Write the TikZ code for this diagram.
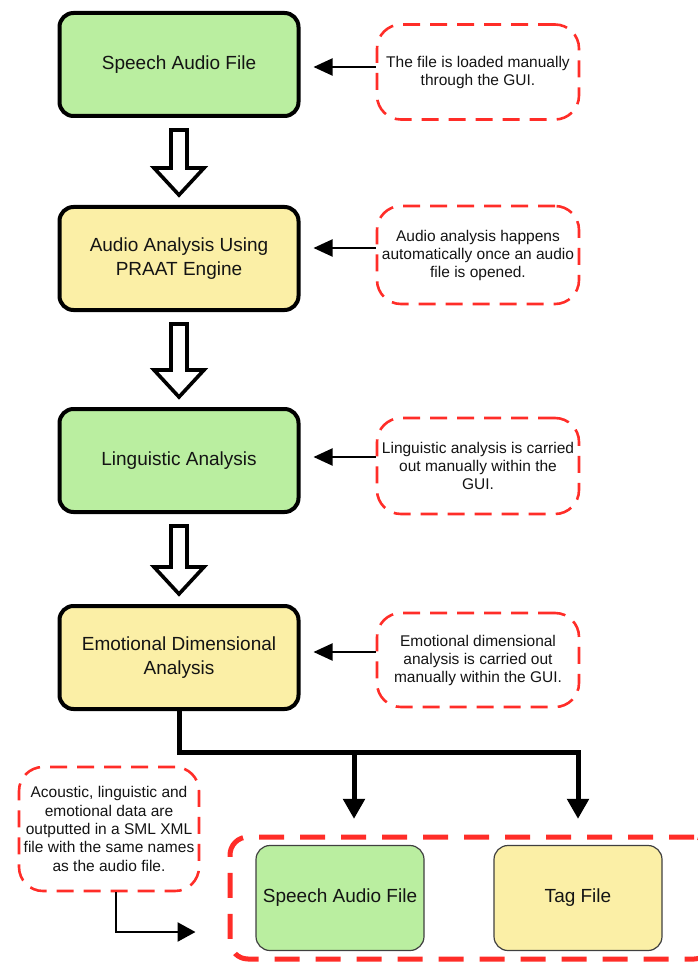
\documentclass[tikz,border=0pt]{standalone}
\usepackage{fontspec}
\setmainfont{Liberation Sans}
\usetikzlibrary{arrows.meta,calc}

\definecolor{boxgreen}{RGB}{186,238,160}
\definecolor{boxyellow}{RGB}{251,239,166}
\definecolor{notered}{RGB}{255,45,40}
\definecolor{inkblack}{RGB}{20,20,20}

\tikzset{
  mainbox/.style={draw=black, line width=4pt, rounded corners=14pt,
    minimum width=239pt, minimum height=103pt, align=center,
    text=inkblack, font=\fontsize{19}{23.5}\selectfont},
  outbox/.style={draw=black!75, line width=1.2pt, rounded corners=14pt,
    minimum width=168pt, minimum height=105pt, align=center,
    text=inkblack, font=\fontsize{19}{23.5}\selectfont},
  notebox/.style={draw=notered, line width=2.6pt, dash pattern=on 17pt off 10pt,
    rounded corners=24pt, minimum width=202pt, inner sep=0pt, align=center,
    text=inkblack, font=\fontsize{15.5}{18}\selectfont},
  groupbox/.style={draw=notered, line width=5pt, dash pattern=on 25pt off 16pt,
    rounded corners=18pt, minimum width=482pt, minimum height=122pt},
  hollow/.style={draw=black, line width=3.6pt, fill=white, line join=miter},
  notearrow/.style={draw=black, line width=2pt, -{Triangle[length=19pt,width=17pt]}},
  treeline/.style={draw=black, line width=5pt},
  treearrow/.style={treeline, -{Triangle[length=20pt,width=21pt]}},
  elbowarrow/.style={draw=black, line width=2.5pt, -{Triangle[length=18pt,width=19pt]}}
}

% hollow block arrow from the bottom of one box to the top of the next
\newcommand\hollowdown[2]{%
  \draw[hollow]
    ($(#1.south)+(-8,12)$) -- ($(#1.south)+(8,12)$)
    -- ($(#2.north)+(8,-37)$) -- ($(#2.north)+(25,-37)$)
    -- ($(#2.north)+(0,-10)$)
    -- ($(#2.north)+(-25,-37)$) -- ($(#2.north)+(-8,-37)$) -- cycle;}

\begin{document}
\begin{tikzpicture}[x=1pt,y=-1pt]
\useasboundingbox (0,0) rectangle (697,965);

% process steps
\node[mainbox, fill=boxgreen]  (b1) at (179,64.5)  {Speech Audio File};
\node[mainbox, fill=boxyellow] (b2) at (179,258.5) {Audio Analysis Using\\PRAAT Engine};
\node[mainbox, fill=boxgreen]  (b3) at (179,460.5) {Linguistic Analysis};
\node[mainbox, fill=boxyellow] (b4) at (179,657.5) {Emotional Dimensional\\Analysis};

\hollowdown{b1}{b2}
\hollowdown{b2}{b3}
\hollowdown{b3}{b4}

% side notes
\node[notebox, minimum height=95pt] (n1) at (478,72)  {The file is loaded manually\\through the GUI.};
\node[notebox, minimum height=98pt] (n2) at (478,255) {Audio analysis happens\\automatically once an audio\\file is opened.};
\node[notebox, minimum height=96pt] (n3) at (478,466) {Linguistic analysis is carried\\out manually within the\\GUI.};
\node[notebox, minimum height=94pt] (n4) at (478,660) {Emotional dimensional\\analysis is carried out\\manually within the GUI.};

\draw[notearrow, shorten >=13pt] ([yshift=5pt]n1.west) -- ([yshift=5pt]n1.west -| b1.east);
\draw[notearrow, shorten >=13pt] ([yshift=7pt]n2.west) -- ([yshift=7pt]n2.west -| b2.east);
\draw[notearrow, shorten >=13pt] ([yshift=9pt]n3.west) -- ([yshift=9pt]n3.west -| b3.east);
\draw[notearrow, shorten >=13pt] ([yshift=8pt]n4.west) -- ([yshift=8pt]n4.west -| b4.east);

% output files, grouped in a frame that runs past the right edge
\node[groupbox] (grp) at (471,898) {};
\node[outbox, fill=boxgreen]  (o1) at (340,898) {Speech Audio File};
\node[outbox, fill=boxyellow] (o2) at (578,898) {Tag File};

\coordinate (j1) at (354,752);
\coordinate (j2) at (578,752);
\draw[treearrow, shorten >=26pt] (b4.south) |- (j2) -- (j2 |- o2.north);
\draw[treearrow, shorten >=26pt] (j1) -- (j1 |- o1.north);

% output note
\node[notebox, minimum width=180pt, minimum height=124pt,
      font=\fontsize{15.5}{18.3}\selectfont] (n5) at (109,829)
  {Acoustic, linguistic and\\emotional data are\\outputted in a SML XML\\file with the same names\\as the audio file.};

\draw[elbowarrow, shorten >=32pt] ([xshift=7pt]n5.south) |- ([yshift=-34pt]grp.west);
\end{tikzpicture}
\end{document}
